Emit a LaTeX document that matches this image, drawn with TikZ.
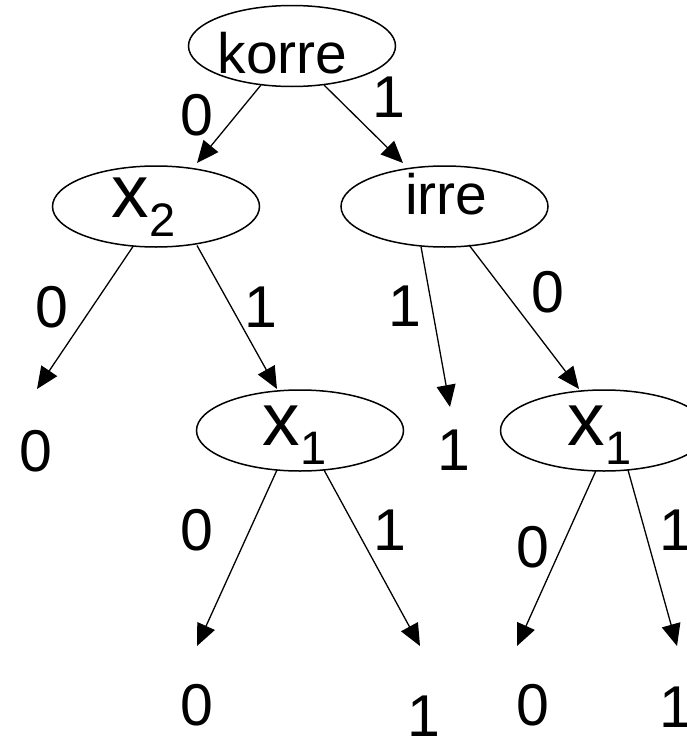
\documentclass[tikz,border=0pt]{standalone}
\usepackage{fontspec}
\setmainfont{Liberation Sans}
\usetikzlibrary{arrows.meta,shapes.geometric}

\tikzset{
  oval/.style={draw, ellipse, line width=1.5pt, minimum width=207pt, minimum height=81pt, inner sep=0pt},
  word/.style={anchor=base, inner sep=0pt, font=\fontsize{57}{60}\selectfont},
  txt/.style={anchor=base, inner sep=0pt, font=\fontsize{59}{62}\selectfont},
  var/.style={anchor=base west, inner sep=0pt},
  edge/.style={line width=1.3pt, -{Triangle[length=22pt,width=19pt]}}
}
\newcommand{\varname}[1]{{\fontsize{75}{80}\selectfont x}\raisebox{-19pt}{\fontsize{47}{50}\selectfont #1}}

\begin{document}
\begin{tikzpicture}[x=1pt,y=-1pt]
\useasboundingbox (0,0) rectangle (687,736);
\clip (0,0) rectangle (687,736);

% decision nodes
\node[oval] (root) at (292,46) {};
\node[word] (rootlbl) at (282.5,73) {korre};
\node[oval] (x2) at (156,206.5) {};
\node[var] (x2lbl) at (111.5,217) {\varname{2}};
\node[oval] (irre) at (444.5,206.5) {};
\node[word] (irrelbl) at (446.5,214) {irre};
\node[oval] (x1m) at (300,430.5) {};
\node[var] (x1mlbl) at (262.5,445) {\varname{1}};
\node[oval] (x1r) at (604,430.5) {};
\node[var] (x1rlbl) at (567.5,445) {\varname{1}};

% terminal values
\node[txt] (leafA) at (36,471) {0};
\node[txt] (leafB) at (454,470) {1};
\node[txt] (leafC) at (197,725) {0};
\node[txt] (leafD) at (423.5,736) {1};
\node[txt] (leafE) at (533,725) {0};
\node[txt] (leafF) at (676,727) {1};

% arrow end points
\path (root) ++(-31,39) coordinate (rs0);
\path (root) ++(32,39) coordinate (rs1);
\coordinate (rt0) at (197,163);
\coordinate (rt1) at (403,163);
\path (x2) ++(-23,40) coordinate (x2s0);
\path (x2) ++(41,39) coordinate (x2s1);
\coordinate (x2t0) at (37,389);
\coordinate (x2t1) at (277,389);
\path (irre) ++(-23.5,40) coordinate (irs1);
\path (irre) ++(24.5,38.5) coordinate (irs0);
\coordinate (irt1) at (450,407);
\coordinate (irt0) at (579,389);
\path (x1m) ++(-23,39.5) coordinate (ms0);
\path (x1m) ++(24,39.5) coordinate (ms1);
\coordinate (mt0) at (197,646);
\coordinate (mt1) at (420,646);
\path (x1r) ++(-8,40) coordinate (qs0);
\path (x1r) ++(24,39.5) coordinate (qs1);
\coordinate (qt0) at (517,646);
\coordinate (qt1) at (677,646);

% edges
\draw[edge] (rs0) -- (rt0);
\draw[edge] (rs1) -- (rt1);
\draw[edge] (x2s0) -- (x2t0);
\draw[edge] (x2s1) -- (x2t1);
\draw[edge] (irs1) -- (irt1);
\draw[edge] (irs0) -- (irt0);
\draw[edge] (ms0) -- (mt0);
\draw[edge] (ms1) -- (mt1);
\draw[edge] (qs0) -- (qt0);
\draw[edge] (qs1) -- (qt1);

% edge labels
\node[txt] (e1) at (197,135) {0};
\node[txt] (e2) at (389,117) {1};
\node[txt] (e3) at (52,327) {0};
\node[txt] (e4) at (261,327) {1};
\node[txt] (e5) at (405,326) {1};
\node[txt] (e6) at (548,312) {0};
\node[txt] (e7) at (197,550) {0};
\node[txt] (e8) at (390,550) {1};
\node[txt] (e9) at (533,567) {0};
\node[txt] (e10) at (676,550) {1};
\end{tikzpicture}
\end{document}
